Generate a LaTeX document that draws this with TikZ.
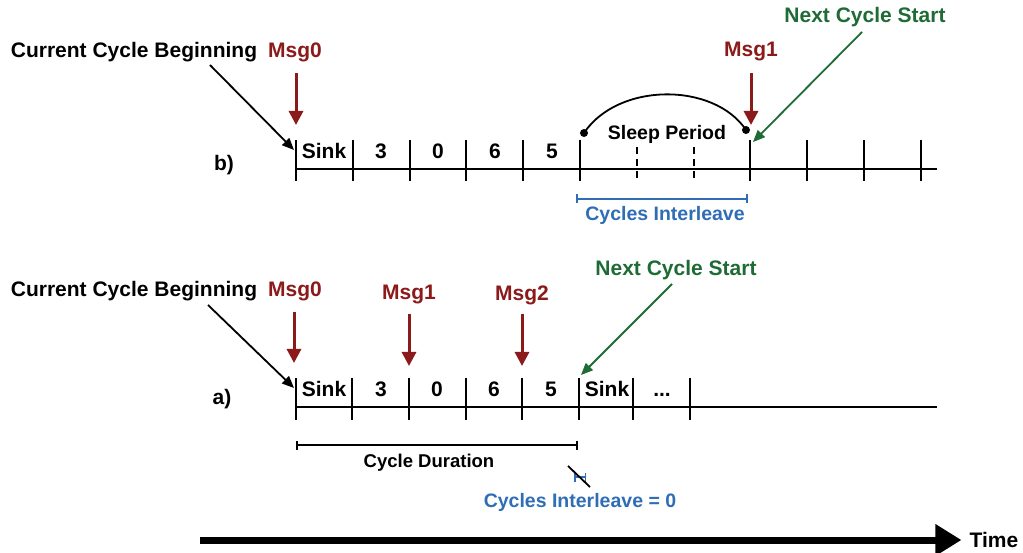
\documentclass[tikz,border=0pt]{standalone}
\usepackage{fontspec}
\setmainfont{Liberation Sans}
\usetikzlibrary{arrows.meta}
\definecolor{msgred}{RGB}{139,26,26}
\definecolor{nextgreen}{RGB}{30,107,53}
\definecolor{ilblue}{RGB}{47,109,181}
\begin{document}
\begin{tikzpicture}[x=1pt,y=-1pt,
  lbl/.style={font=\fontsize{21}{24}\selectfont\bfseries, inner sep=0pt},
  slbl/.style={font=\fontsize{19.5}{22}\selectfont\bfseries, inner sep=0pt},
  msg/.style={lbl, text=msgred},
  nxt/.style={lbl, text=nextgreen},
  msgarrow/.style={draw=msgred, line width=3pt, -{Triangle[width=14pt,length=14pt]}},
  blackarrow/.style={draw=black, line width=1.8pt, -{Triangle[width=10pt,length=12pt]}},
  greenarrow/.style={draw=nextgreen, line width=1.8pt, -{Triangle[width=10pt,length=12pt]}},
  axis/.style={line width=2pt},
  tick/.style={line width=2pt},
  dtick/.style={line width=2.2pt, dash pattern=on 7pt off 5pt},
  bracket/.style={line width=1.6pt, {Bar[width=9pt]}-{Bar[width=9pt]}},
  sdot/.style={circle, fill=black, inner sep=0pt, minimum size=8pt},
]
\useasboundingbox (0,0) rectangle (1023,553);

% ================= b) =================
\draw[axis] (296,169) -- (937,169);
\foreach \x in {296,353,410,466,523,580,750,807,864,921}
  \draw[tick] (\x,140) -- (\x,181);
\foreach \x in {637,694}
  \draw[dtick] (\x,147) -- (\x,181);
\node[lbl] (bsink) at (324,151) {Sink};
\node[lbl] (b3) at (381,151) {3};
\node[lbl] (b0) at (438,151) {0};
\node[lbl] (b6) at (495,151) {6};
\node[lbl] (b5) at (552,151) {5};
\node[slbl] (sleep) at (667,134) {Sleep Period};
\node[lbl] (blab) at (224,165) {b)};

\node[lbl] (cbegb) at (134,52) {Current Cycle Beginning};
\coordinate (cbegbt) at (294,150);
\draw[blackarrow] (210,65) -- (cbegbt);

\node[msg] (msg0b) at (295,52) {Msg0};
\coordinate (msg0bt) at (296,125);
\draw[msgarrow] (296,73) -- (msg0bt);

\node[msg] (msg1b) at (751,52) {Msg1};
\coordinate (msg1bt) at (751,125);
\draw[msgarrow] (751,73) -- (msg1bt);

\node[nxt] (nextb) at (865,17) {Next Cycle Start};
\coordinate (nextbt) at (753,142);
\draw[greenarrow] (862,32) -- (nextbt);

\node[sdot] (sl) at (584,133) {};
\node[sdot] (sr) at (746,130) {};
\draw[line width=1.8pt] (sl.center) .. controls (618,82) and (714,82) .. (sr.center);

\coordinate (ilbl) at (576,199);
\coordinate (ilbr) at (748,199);
\draw[bracket, draw=ilblue] (ilbl) -- (ilbr);
\node[slbl, text=ilblue] (ilb) at (665,215) {Cycles Interleave};

% ================= a) =================
\draw[axis] (296,407) -- (937,407);
\foreach \x in {296,352,409,466,522,579,633,690}
  \draw[tick] (\x,378) -- (\x,420);
\node[lbl] (asink) at (324,389) {Sink};
\node[lbl] (a3) at (381,389) {3};
\node[lbl] (a0) at (437,389) {0};
\node[lbl] (a6) at (494,389) {6};
\node[lbl] (a5) at (551,389) {5};
\node[lbl] (asink2) at (607,389) {Sink};
\node[lbl] (adots) at (662,395) {...};
\node[lbl] (alab) at (222,399) {a)};

\node[lbl] (cbega) at (134,291) {Current Cycle Beginning};
\coordinate (cbegat) at (294,388);
\draw[blackarrow] (208,305) -- (cbegat);

\node[msg] (msg0a) at (295,291) {Msg0};
\coordinate (msg0at) at (294,363);
\draw[msgarrow] (294,312) -- (msg0at);

\node[msg] (msg1a) at (409,295) {Msg1};
\coordinate (msg1at) at (409,366);
\draw[msgarrow] (409,314) -- (msg1at);

\node[msg] (msg2a) at (522,295) {Msg2};
\coordinate (msg2at) at (522,366);
\draw[msgarrow] (522,314) -- (msg2at);

\node[nxt] (nexta) at (676,270) {Next Cycle Start};
\coordinate (nextat) at (581,375);
\draw[greenarrow] (672,284) -- (nextat);

\coordinate (cdl) at (296,445);
\coordinate (cdr) at (578,445);
\draw[bracket] (cdl) -- (cdr);
\node[font=\fontsize{18.5}{22}\selectfont\bfseries, inner sep=0pt] (cd) at (429,463) {Cycle Duration};

\coordinate (zl) at (574,477);
\coordinate (zr) at (586,477);
\draw[line width=1.5pt, draw=ilblue, {Bar[width=9pt]}-{Bar[width=9pt]}] (zl) -- (zr);
\coordinate (slash1) at (568,466);
\coordinate (slash2) at (590,487);
\draw[line width=1.8pt] (slash1) -- (slash2);
\node[slbl, text=ilblue] (il0) at (580,502) {Cycles Interleave = 0};

% ================= Time =================
\node[lbl] (time) at (994,540) {Time};
\coordinate (t0) at (200,540);
\draw[line width=7pt, -{Triangle[width=30pt,length=26pt]}] (t0) -- ([xshift=-8pt]time.west);
\end{tikzpicture}
\end{document}
